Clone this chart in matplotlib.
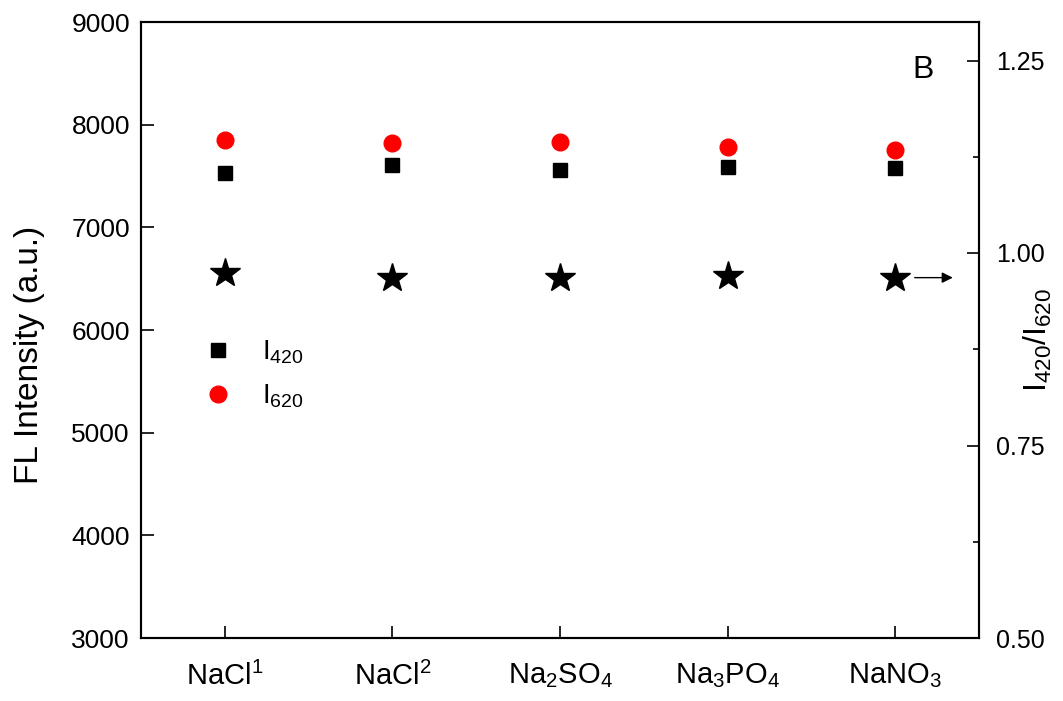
import numpy as np
import matplotlib.pyplot as plt

plt.rcParams['font.family'] = ['Liberation Sans', 'DejaVu Sans']
plt.rcParams['mathtext.default'] = 'regular'

# salts and measured intensities
salts = ['NaCl$^1$', 'NaCl$^2$', 'Na$_2$SO$_4$', 'Na$_3$PO$_4$', 'NaNO$_3$']
i420 = [7530, 7608, 7559, 7591, 7578]
i620 = [7851, 7819, 7829, 7783, 7754]
ratio = [0.974, 0.967, 0.967, 0.970, 0.968]

x = np.arange(len(salts))

fig = plt.figure(figsize=(10.63, 7.01), dpi=100)
ax = fig.add_axes([141/1063, 1 - 638/701, (979-141)/1063, (638-22)/701])
ax2 = ax.twinx()

ax.plot(x, i420, 's', color='k', markersize=10, label='I$_{420}$')
ax.plot(x, i620, 'o', color='#ff0000', markersize=12, label='I$_{620}$')
ax2.plot(x, ratio, '*', color='k', markersize=22)

# arrow pointing the ratio series to the right axis
ax2.annotate('', xy=(4.36, ratio[-1]), xytext=(4.1, ratio[-1]),
             arrowprops=dict(arrowstyle='-|>', color='k', lw=1, mutation_scale=16))

ax.set_xlim(-0.5, 4.5)
ax.set_ylim(3000, 9000)
ax.set_yticks(np.arange(3000, 9001, 1000))
ax.set_xticks(x)
ax.set_xticklabels(salts, fontsize=21)
ax.tick_params(axis='y', direction='in', length=9.5, width=1.2, labelsize=19, pad=8)
ax.tick_params(axis='x', direction='in', length=9, width=1.2, pad=17)
ax.set_ylabel('FL Intensity (a.u.)', fontsize=24)
ax.yaxis.set_label_coords(-0.1146, 0.46)

ax2.set_ylim(0.5, 1.3)
ax2.set_yticks([0.5, 0.75, 1.0, 1.25])
ax2.set_yticks([0.625, 0.875, 1.125], minor=True)
ax2.yaxis.set_major_formatter(plt.FormatStrFormatter('%.2f'))
ax2.tick_params(axis='y', which='major', direction='in', length=9, width=1.2, labelsize=18, pad=12)
ax2.tick_params(axis='y', which='minor', direction='in', length=4.5, width=1.2)
ax2.set_ylabel('I$_{420}$/I$_{620}$', fontsize=23)
ax2.yaxis.set_label_coords(1.051, 0.484)

for a in (ax, ax2):
    for s in a.spines.values():
        s.set_linewidth(1.5)

ax.text(0.933, 0.909, 'B', transform=ax.transAxes, fontsize=23, ha='center', va='baseline')

ax.legend(loc='center left', bbox_to_anchor=(0.045, 0.428), frameon=False,
          fontsize=20, handlelength=1.0, handletextpad=1.1, labelspacing=0.6)

fig.savefig('out.png', dpi=100)
